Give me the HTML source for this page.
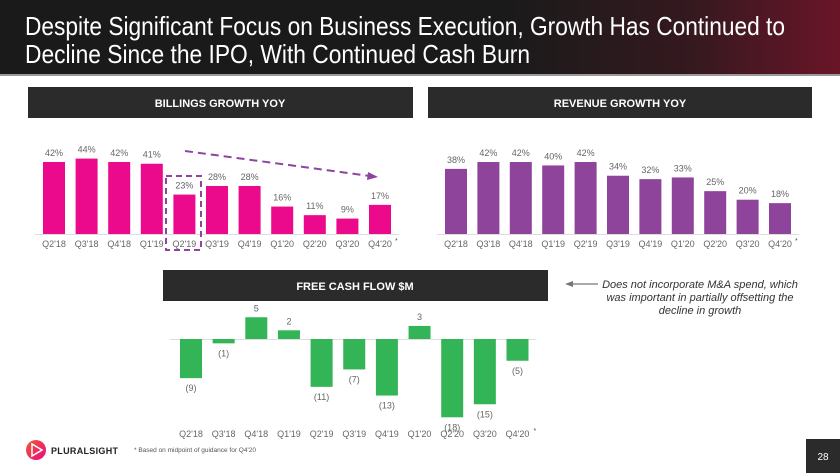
<!DOCTYPE html>
<html><head><meta charset="utf-8">
<style>
html,body{margin:0;padding:0;background:#fff;}
svg{display:block;font-family:"Liberation Sans",Arial,sans-serif;}
</style></head>
<body>
<svg id="s" width="840" height="473" viewBox="0 0 840 473" xmlns="http://www.w3.org/2000/svg">
  <defs>
    <linearGradient id="burst" x1="0" y1="0" x2="1" y2="0">
      <stop offset="0" stop-color="#1a1a1a"/>
      <stop offset="0.6" stop-color="#1a1a1a"/>
      <stop offset="0.82" stop-color="#34191f"/>
      <stop offset="1" stop-color="#6a1528"/>
    </linearGradient>
    <linearGradient id="logoG" x1="0" y1="0" x2="1" y2="1">
      <stop offset="0" stop-color="#f15b2a"/>
      <stop offset="1" stop-color="#e80a89"/>
    </linearGradient>
  </defs>
  <rect x="0" y="0" width="840" height="74" fill="url(#burst)"/>
  <rect x="0" y="74" width="840" height="2" fill="#9a9a9a"/>
  <g fill="#fff" font-size="26" style="font-family:'Liberation Sans Narrow','Liberation Sans',sans-serif">
    <text x="25" y="35" textLength="760" lengthAdjust="spacingAndGlyphs">Despite Significant Focus on Business Execution, Growth Has Continued to</text>
    <text x="25" y="63" textLength="505" lengthAdjust="spacingAndGlyphs">Decline Since the IPO, With Continued Cash Burn</text>
  </g>

  <g>
    <rect x="28" y="87" width="385" height="31" fill="#2b2b2b"/>
    <text x="220" y="107" fill="#fff" font-size="11" font-weight="bold" text-anchor="middle">BILLINGS GROWTH YOY</text>
  </g>
  <g>
    <rect x="428" y="87" width="384" height="31" fill="#2b2b2b"/>
    <text x="620" y="107" fill="#fff" font-size="11" font-weight="bold" text-anchor="middle">REVENUE GROWTH YOY</text>
  </g>
  <g>
    <rect x="163" y="270" width="385" height="31" fill="#2b2b2b"/>
    <text x="355" y="290" fill="#fff" font-size="11" font-weight="bold" text-anchor="middle">FREE CASH FLOW $M</text>
  </g>

  <g id="billings"></g>
  <g id="revenue"></g>
  <g id="fcf"></g>

  <rect x="166" y="176" width="35" height="74" fill="none" stroke="#8e44a0" stroke-width="2" stroke-dasharray="6,4"/>
  <g>
    <line x1="185" y1="151" x2="370" y2="176" stroke="#8e44a0" stroke-width="2" stroke-dasharray="8,5"/>
    <polygon points="378,177 368,172 367,180" fill="#8e44a0"/>
  </g>

  <g>
    <line x1="572" y1="284" x2="598" y2="284" stroke="#777" stroke-width="1.2"/>
    <polygon points="565,284 573,281 573,287" fill="#777"/>
    <g font-size="11" font-style="italic" fill="#333" text-anchor="middle">
      <text x="700" y="288">Does not incorporate M&amp;A spend, which</text>
      <text x="700" y="301">was important in partially offsetting the</text>
      <text x="700" y="314">decline in growth</text>
    </g>
  </g>

  <g>
    <circle cx="36" cy="450" r="10" fill="url(#logoG)"/>
    <polygon points="32,444 42,450 32,456" fill="none" stroke="#fff" stroke-width="1.5"/>
    <text x="51" y="454" font-size="9" font-weight="bold" fill="#222" textLength="67" lengthAdjust="spacing">PLURALSIGHT</text>
  </g>
  <text x="134" y="452" font-size="6.5" fill="#555">*  Based on midpoint of guidance for Q4'20</text>
  <g>
    <rect x="806" y="439" width="34" height="34" fill="#2b2b2b"/>
    <text x="823" y="460" font-size="10" fill="#fff" text-anchor="middle">28</text>
  </g>
</svg>
<script>
const categories = ["Q2'18","Q3'18","Q4'18","Q1'19","Q2'19","Q3'19","Q4'19","Q1'20","Q2'20","Q3'20","Q4'20"];
const billingsValues = [42,44,42,41,23,28,28,16,11,9,17];
const revenueValues = [38,42,42,40,42,34,32,33,25,20,18];
const fcfValues = [-9,-1,5,2,-11,-7,-13,3,-18,-15,-5];
const NS = "http://www.w3.org/2000/svg";
function mk(tag, attrs, parent){const e=document.createElementNS(NS,tag);for(const k in attrs)e.setAttribute(k,attrs[k]);parent.appendChild(e);return e;}

function pctChart(gid, values, cfg){
  const g=document.getElementById(gid);
  const xScale=i=>cfg.x0+i*cfg.step;
  const yScale=v=>cfg.base-v*cfg.k;
  const axis=mk('line',{x1:cfg.x0-8,x2:xScale(values.length-1)+cfg.w+8,y1:cfg.base+0.5,y2:cfg.base+0.5,stroke:'#ddd','stroke-width':1},g);
  
  
  values.forEach((v,i)=>{
    const r=mk('rect',{x:xScale(i),y:yScale(v),width:cfg.w,height:cfg.base-yScale(v),fill:cfg.color},g);
    
    
    const t=mk('text',{x:xScale(i)+cfg.w/2,y:yScale(v)-6,'font-size':9,fill:'#666','text-anchor':'middle'},g);
    t.textContent=v+'%';
    
    
    const c=mk('text',{x:xScale(i)+cfg.w/2,y:cfg.base+13,'font-size':9,fill:'#666','text-anchor':'middle'},g);
    c.textContent=categories[i];
    
    
  });
  const st=mk('text',{x:xScale(values.length-1)+cfg.w+4,y:cfg.base+9,'font-size':7,fill:'#555'},g);
  st.textContent='*';
  
  
}
pctChart('billings',billingsValues,{x0:43,step:32.6,w:22,base:234,k:1.714,color:'#ec0a8c'});
pctChart('revenue',revenueValues,{x0:445,step:32.4,w:22,base:234,k:1.714,color:'#8e449b'});

(function(){
  const g=document.getElementById('fcf');
  const x0=180,step=32.65,w=22,base=339,k=4.35;
  const xScale=i=>x0+i*step;
  const yScale=v=>base-v*k;
  const axis=mk('line',{x1:x0-10,x2:xScale(10)+w+8,y1:base+0.5,y2:base+0.5,stroke:'#ddd','stroke-width':1},g);
  
  
  fcfValues.forEach((v,i)=>{
    const top=Math.min(yScale(v),base), h=Math.abs(v*k);
    const r=mk('rect',{x:xScale(i),y:top,width:w,height:h,fill:'#33b457'},g);
    
    
    const ly=v>=0?yScale(v)-6:yScale(v)+13;
    const t=mk('text',{x:xScale(i)+w/2,y:ly,'font-size':9,fill:'#666','text-anchor':'middle'},g);
    t.textContent=v>=0?String(v):'('+Math.abs(v)+')';
    
    
    const c=mk('text',{x:xScale(i)+w/2,y:437,'font-size':9,fill:'#666','text-anchor':'middle'},g);
    c.textContent=categories[i];
    
    
  });
  const st=mk('text',{x:xScale(10)+w+5,y:433,'font-size':7,fill:'#555'},g);
  st.textContent='*';
  
  
})();
</script>
</body></html>
